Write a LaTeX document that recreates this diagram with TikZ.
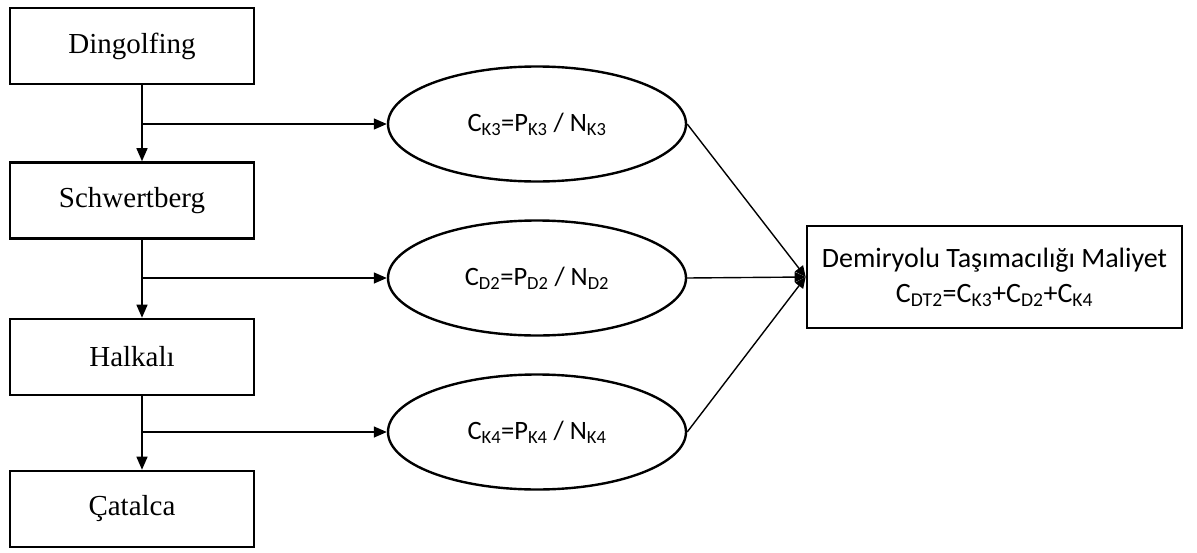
\documentclass[tikz,border=0pt]{standalone}
\usepackage{fontspec}
\setmainfont{Liberation Serif}
\newfontfamily\calib{Carlito}
\usetikzlibrary{shapes.geometric,arrows.meta}
\tikzset{
  lbox/.style={draw, line width=2.6pt, minimum width=244pt, minimum height=76pt, inner sep=0pt,
    font=\fontsize{29}{32}\selectfont},
  ell/.style={draw, ellipse, line width=2.4pt, minimum width=298pt, minimum height=115pt, inner sep=0pt,
    font=\calib\fontsize{26.5}{30}\selectfont},
  rbox/.style={draw, line width=2.6pt, minimum width=375pt, minimum height=102pt, inner sep=0pt,
    align=center, font=\calib\fontsize{28}{35}\selectfont},
  arr/.style={line width=1.4pt, -{Triangle[length=13pt,width=11pt]}},
  conn/.style={line width=1.4pt, -{Triangle[length=11pt,width=10pt]}}
}
\begin{document}
\begin{tikzpicture}[x=1pt,y=-1pt]
\useasboundingbox (0,0) rectangle (1197,552);
\node[lbox] (d) at (132,46) {Dingolfing};
\node[lbox] (s) at (132,200.5) {Schwertberg};
\node[lbox] (h) at (132,357) {Halkalı};
\node[lbox] (c) at (132,509) {Çatalca};
\coordinate (ax) at (142,0);
\node[ell] (e1) at (537,124) {C\textsubscript{K3}=P\textsubscript{K3} / N\textsubscript{K3}};
\node[ell] (e2) at (537,278) {C\textsubscript{D2}=P\textsubscript{D2} / N\textsubscript{D2}};
\node[ell] (e3) at (537,432) {C\textsubscript{K4}=P\textsubscript{K4} / N\textsubscript{K4}};
\node[rbox] (r) at (994.5,277) {Demiryolu Taşımacılığı Maliyet\\C\textsubscript{DT2}=C\textsubscript{K3}+C\textsubscript{D2}+C\textsubscript{K4}};
\draw[arr] (d.south -| ax) -- (s.north -| ax);
\draw[arr] (s.south -| ax) -- (h.north -| ax);
\draw[arr] (h.south -| ax) -- (c.north -| ax);
\draw[arr] (ax |- e1.west) -- (e1.west);
\draw[arr] (ax |- e2.west) -- (e2.west);
\draw[arr] (ax |- e3.west) -- (e3.west);
\draw[conn] (e1.east) -- (r.west);
\draw[conn] (e2.east) -- (r.west);
\draw[conn] (e3.east) -- (r.west);
\end{tikzpicture}
\end{document}
